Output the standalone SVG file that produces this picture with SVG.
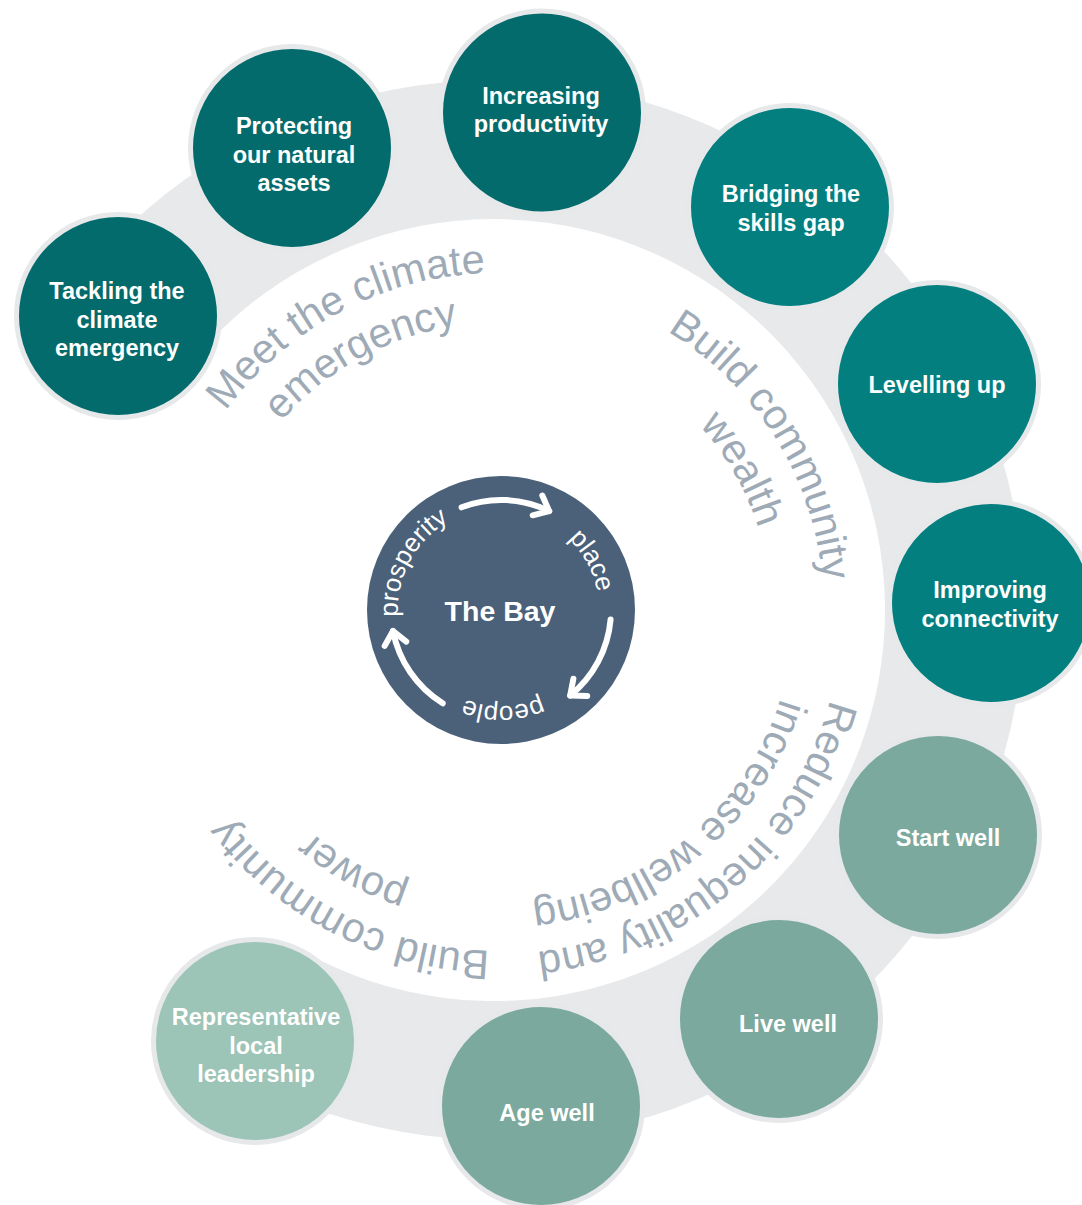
<svg xmlns="http://www.w3.org/2000/svg" width="1082" height="1205" viewBox="0 0 1082 1205">
<style>
.ring{fill:#e8e9eb}
.nc{stroke:#e6e8ea;stroke-width:5}
.dark{fill:#046b6c}
.mid{fill:#037f80}
.sage{fill:#7ba99e}
.light{fill:#9cc4b7}
.nt{font-family:"Liberation Sans",Arial,sans-serif;font-weight:bold;font-size:23.5px;fill:#fff;text-anchor:middle}
.lab{font-family:"Liberation Sans",Arial,sans-serif;font-size:41.5px;fill:#9eabb7}
.cl{font-family:"Liberation Sans",Arial,sans-serif;font-size:26px;fill:#fff}
.arr{fill:none;stroke:#fff;stroke-width:6;stroke-linecap:round}
</style>
<defs>
<marker id="ah" markerUnits="userSpaceOnUse" orient="auto" refX="0" refY="0" markerWidth="40" markerHeight="40" viewBox="-20 -20 40 40" overflow="visible">
<path d="M-13 -11 L0 0 L-13 11" fill="none" stroke="#fff" stroke-width="6" stroke-linecap="round" stroke-linejoin="round"/>
</marker>
<path id="p1a" d="M177.5 714.1 A337 337 0 0 1 763.6 402.5"/>
<path id="p1b" d="M225.8 701.1 A287 287 0 0 1 722.6 431.3"/>
<path id="p2a" d="M375.9 307.7 A326 326 0 0 1 716.1 852.3"/>
<path id="p2b" d="M404.6 353.5 A273 273 0 0 1 673.5 819.1"/>
<path id="p3a" d="M793.8 434.4 A344 344 0 0 1 280 876.1"/>
<path id="p3b" d="M755.4 463.8 A296 296 0 0 1 306.2 835.4"/>
<path id="p4a" d="M770.3 815.2 A341 341 0 0 1 171.9 510.3"/>
<path id="p4b" d="M723.4 792.5 A290 290 0 0 1 223.8 515.6"/>
<path id="cp1" d="M437.6 691.2 A103 103 0 0 1 532.8 512"/>
<path id="cp2" d="M469.9 517.1 A98 98 0 0 1 562 686.7"/>
<path id="cp3" d="M595.9 624.7 A96 96 0 0 1 406.8 628.6"/>
</defs>
<rect width="1082" height="1205" fill="#fff"/>
<g id="ring">
<path class="ring" d="M76.4 283.7 A530 530 0 1 1 237.1 1073.5 L304.4 952 A391 391 0 1 0 185.9 369.3 Z"/>
</g>
<g id="theme-labels">
<text class="lab"><textPath href="#p1a" startOffset="50%" text-anchor="middle">Meet the climate</textPath></text>
<text class="lab"><textPath href="#p1b" startOffset="50%" text-anchor="middle">emergency</textPath></text>
<text class="lab"><textPath href="#p2a" startOffset="50%" text-anchor="middle">Build community</textPath></text>
<text class="lab"><textPath href="#p2b" startOffset="50%" text-anchor="middle">wealth</textPath></text>
<text class="lab"><textPath href="#p3a" startOffset="50%" text-anchor="middle">Reduce inequality and</textPath></text>
<text class="lab"><textPath href="#p3b" startOffset="50%" text-anchor="middle">increase wellbeing</textPath></text>
<text class="lab"><textPath href="#p4a" startOffset="50%" text-anchor="middle">Build community</textPath></text>
<text class="lab"><textPath href="#p4b" startOffset="50%" text-anchor="middle">power</textPath></text>
</g>
<g id="node-tackling">
<circle class="nc dark" cx="118" cy="316" r="101.5"/>
<text class="nt"><tspan x="117" y="299">Tackling the</tspan><tspan x="117" y="328">climate</tspan><tspan x="117" y="356">emergency</tspan></text>
</g>
<g id="node-protecting">
<circle class="nc dark" cx="292" cy="148" r="101.5"/>
<text class="nt"><tspan x="294" y="134">Protecting</tspan><tspan x="294" y="163">our natural</tspan><tspan x="294" y="191">assets</tspan></text>
</g>
<g id="node-increasing">
<circle class="nc dark" cx="542" cy="112.5" r="101.5"/>
<text class="nt"><tspan x="541" y="104">Increasing</tspan><tspan x="541" y="132">productivity</tspan></text>
</g>
<g id="node-bridging">
<circle class="nc mid" cx="790" cy="207" r="101.5"/>
<text class="nt"><tspan x="791" y="202">Bridging the</tspan><tspan x="791" y="231">skills gap</tspan></text>
</g>
<g id="node-levelling">
<circle class="nc mid" cx="937" cy="384" r="101.5"/>
<text class="nt" x="937" y="393">Levelling up</text>
</g>
<g id="node-improving">
<circle class="nc mid" cx="991" cy="603" r="101.5"/>
<text class="nt"><tspan x="990" y="598">Improving</tspan><tspan x="990" y="627">connectivity</tspan></text>
</g>
<g id="node-start">
<circle class="nc sage" cx="938" cy="835" r="101.5"/>
<text class="nt" x="948" y="846">Start well</text>
</g>
<g id="node-live">
<circle class="nc sage" cx="779" cy="1019" r="101.5"/>
<text class="nt" x="788" y="1032">Live well</text>
</g>
<g id="node-age">
<circle class="nc sage" cx="541" cy="1106" r="101.5"/>
<text class="nt" x="547" y="1121">Age well</text>
</g>
<g id="node-representative">
<circle class="nc light" cx="255" cy="1041" r="101.5"/>
<text class="nt"><tspan x="256" y="1025">Representative</tspan><tspan x="256" y="1054">local</tspan><tspan x="256" y="1082">leadership</tspan></text>
</g>
<g id="node-bay">
<circle cx="501" cy="610" r="134" fill="#4b6179"/>
<text class="nt" x="500" y="621" style="font-size:28.5px">The Bay</text>
<text class="cl"><textPath href="#cp1" startOffset="50%" text-anchor="middle">prosperity</textPath></text>
<text class="cl"><textPath href="#cp2" startOffset="50%" text-anchor="middle">place</textPath></text>
<text class="cl"><textPath href="#cp3" startOffset="50%" text-anchor="middle">people</textPath></text>
</g>
<g id="connectors">
<path class="arr" marker-end="url(#ah)" d="M461.6 507.3 A110 110 0 0 1 549.2 511.1"/>
<path class="arr" marker-end="url(#ah)" d="M610.6 619.6 A110 110 0 0 1 570.2 695.5"/>
<path class="arr" marker-end="url(#ah)" d="M442.7 703.3 A110 110 0 0 1 393 631"/>
</g>
</svg>
